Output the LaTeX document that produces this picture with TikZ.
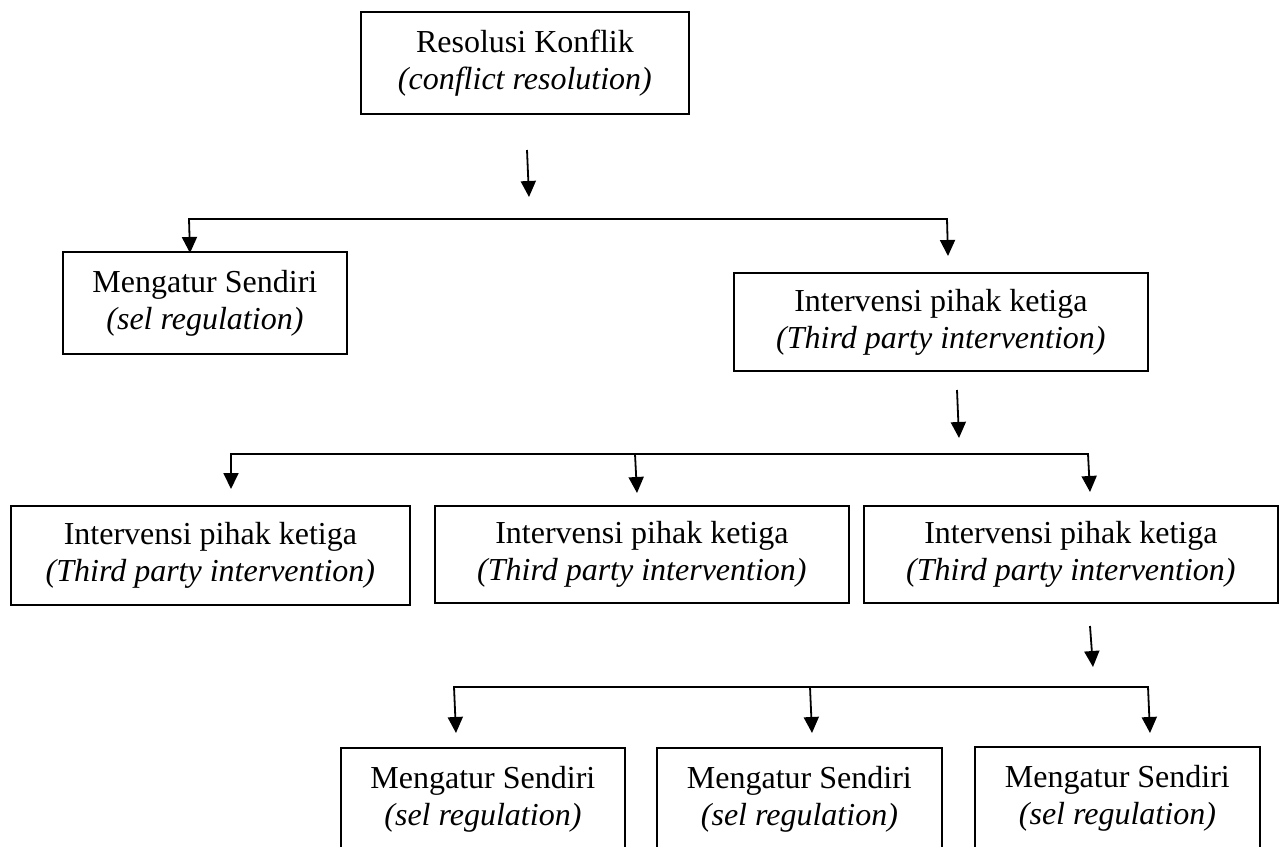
\documentclass[tikz,border=0pt]{standalone}
\usepackage{fontspec}
\setmainfont{Liberation Serif}
\usetikzlibrary{arrows.meta}
\begin{document}
\begin{tikzpicture}[x=1pt,y=-1pt,
  box/.style={draw, line width=1.8pt, inner sep=0pt, align=center, anchor=north west,
              font=\fontsize{32}{37}\selectfont},
  conn/.style={line width=1.8pt, line join=miter},
  tipA/.tip={Triangle[length=16pt,width=15pt]},
  arr/.style={conn, -tipA},
  arr2/.style={conn, tipA-tipA}]
\useasboundingbox (0,0) rectangle (1282,846);
\clip (0,0) rectangle (1282,846);
\fill[white] (0,0) rectangle (1282,846);

% nodes
\node[box, minimum width=328pt, minimum height=102pt] (top) at (360,11)
  {Resolusi Konflik\\\textit{(conflict resolution)}};
\node[box, minimum width=284pt, minimum height=102pt] (L) at (62,251)
  {Mengatur Sendiri\\\textit{(sel regulation)}};
\node[box, minimum width=414pt, minimum height=98pt] (R) at (733,272)
  {Intervensi pihak ketiga\\\textit{(Third party intervention)}};
\node[box, minimum width=399pt, minimum height=99pt] (M1) at (10,505)
  {Intervensi pihak ketiga\\\textit{(Third party intervention)}};
\node[box, minimum width=414pt, minimum height=97pt] (M2) at (434,505)
  {Intervensi pihak ketiga\\\textit{(Third party intervention)}};
\node[box, minimum width=414pt, minimum height=97pt] (M3) at (863,505)
  {Intervensi pihak ketiga\\\textit{(Third party intervention)}};
\node[box, minimum width=284pt, minimum height=102pt] (B1) at (340,747)
  {Mengatur Sendiri\\\textit{(sel regulation)}};
\node[box, minimum width=285pt, minimum height=102pt] (B2) at (656,747)
  {Mengatur Sendiri\\\textit{(sel regulation)}};
\node[box, minimum width=285pt, minimum height=102pt] (B3) at (974,746)
  {Mengatur Sendiri\\\textit{(sel regulation)}};

% free-standing arrows
\coordinate (a1s) at (527,150); \coordinate (a1e) at (529,197);
\draw[arr] (a1s) -- (a1e);
\coordinate (a2s) at (957,390); \coordinate (a2e) at (959,438);
\draw[arr] (a2s) -- (a2e);
\coordinate (a3s) at (1090,626); \coordinate (a3e) at (1093,667);
\draw[arr] (a3s) -- (a3e);

% branch 1
\coordinate (b1l) at (189,219); \coordinate (b1r) at (947,219);
\coordinate (t1l) at (190,253); \coordinate (t1r) at (948,256);
\draw[arr2] (t1l) -- (b1l) -- (b1r) -- (t1r);

% branch 2
\coordinate (b2l) at (231,454); \coordinate (b2m) at (635,454); \coordinate (b2r) at (1088,454);
\coordinate (t2l) at (231,489); \coordinate (t2m) at (637,493); \coordinate (t2r) at (1090,492);
\draw[arr2] (t2l) -- (b2l) -- (b2r) -- (t2r);
\draw[arr] (b2m) -- (t2m);

% branch 3
\coordinate (b3l) at (454,687); \coordinate (b3m) at (810,687); \coordinate (b3r) at (1148,687);
\coordinate (t3l) at (456,733); \coordinate (t3m) at (812,733); \coordinate (t3r) at (1150,733);
\draw[arr2] (t3l) -- (b3l) -- (b3r) -- (t3r);
\draw[arr] (b3m) -- (t3m);
\end{tikzpicture}
\end{document}
